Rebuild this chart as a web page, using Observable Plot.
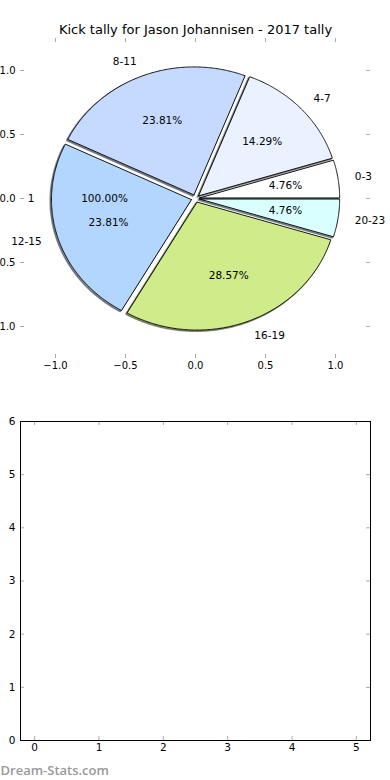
<!DOCTYPE html>
<html><head><meta charset="utf-8">
<script src="https://cdn.jsdelivr.net/npm/d3@7"></script>
<script src="https://cdn.jsdelivr.net/npm/@observablehq/plot@0.6"></script>
<style>
body{margin:0;background:#fff;}
#chart svg{display:block;}
</style></head><body><div id="chart"></div>
<script>
const title = "Kick tally for Jason Johannisen - 2017 tally";
const categories = ["0-3", "4-7", "8-11", "12-15", "16-19", "20-23"];
const counts = [1, 3, 5, 5, 6, 1];
const colors = ["#ffffff", "#eaf2ff", "#c6daff", "#b3d6ff", "#d0eb8a", "#d9ffff"];
const explode = [0.03, 0.03, 0.03, 0.03, 0.03, 0.03];
const overlayLabels = ["1"];
const overlayCounts = [1];
const overlayExplode = [0.03];
const pieTicks = [-1, -0.5, 0, 0.5, 1];
const emptyXTicks = [0, 1, 2, 3, 4, 5];
const emptyYTicks = [0, 1, 2, 3, 4, 5, 6];
const watermark = "Dream-Stats.com";

const FONT = "DejaVu Sans";
const LABEL_DIST = 1.12, PCT_DIST = 0.62;
const minus = s => s.replace("-", "\u2212");

function pieLayout(values, expl) {
  const total = d3.sum(values);
  let t1 = 0;
  return values.map((v, i) => {
    const t2 = t1 + v / total;
    const a1 = 2 * Math.PI * t1, a2 = 2 * Math.PI * t2, am = (a1 + a2) / 2;
    const cx = expl[i] * Math.cos(am), cy = expl[i] * Math.sin(am);
    t1 = t2;
    return {i, v, frac: v / total, a1, a2, am, cx, cy};
  });
}
function wedgePoints(w, ox = 0, oy = 0) {
  const pts = [{x: w.cx + ox, y: w.cy + oy}];
  const n = Math.max(2, Math.ceil((w.a2 - w.a1) / (Math.PI / 360)));
  for (let k = 0; k <= n; k++) {
    const a = w.a1 + (w.a2 - w.a1) * k / n;
    pts.push({x: w.cx + ox + Math.cos(a), y: w.cy + oy + Math.sin(a)});
  }
  pts.push({x: w.cx + ox, y: w.cy + oy});
  return pts;
}

const wedges = pieLayout(counts, explode);
const overlay = pieLayout(overlayCounts, overlayExplode);

const labelData = wedges.map(w => ({
  text: categories[w.i],
  x: w.cx + LABEL_DIST * Math.cos(w.am),
  y: w.cy + LABEL_DIST * Math.sin(w.am)
})).concat(overlay.map(w => ({
  text: overlayLabels[w.i],
  x: w.cx + LABEL_DIST * Math.cos(w.am),
  y: w.cy + LABEL_DIST * Math.sin(w.am)
})));
const pctData = wedges.concat(overlay).map(w => ({
  text: (w.frac * 100).toFixed(2) + "%",
  x: w.cx + PCT_DIST * Math.cos(w.am),
  y: w.cy + PCT_DIST * Math.sin(w.am)
}));

const shadowOff = -0.009;
const shadowMarks = wedges.map(w => {
  const c = d3.rgb(colors[w.i]);
  const dark = d3.rgb(c.r * 0.3, c.g * 0.3, c.b * 0.3).formatHex();
  return Plot.line(wedgePoints(w, shadowOff, shadowOff), {
    x: "x", y: "y", fill: dark, fillOpacity: 0.5, stroke: dark, strokeOpacity: 0.6,
    strokeWidth: 1.6, strokeLinejoin: "miter"
  });
});
const wedgeMarks = wedges.map(w => Plot.line(wedgePoints(w), {
  x: "x", y: "y", fill: colors[w.i], stroke: "black", strokeWidth: 0.9, strokeLinejoin: "miter"
}));

const tickColor = "#aaa";
const fmt1 = d => minus(d.toFixed(1));

const pieFrameW = 350, pieFrameH = 320;
const pie = Plot.plot({
  width: 390, height: 390,
  marginLeft: 20, marginRight: 20, marginTop: 38, marginBottom: 32,
  x: {domain: [-1.25, 1.25]},
  y: {domain: [-1.25, 1.25]},
  style: {fontFamily: FONT, fontSize: "10px", background: "white", color: "black"},
  marks: [
    Plot.tickX(pieTicks, {x: d => d, stroke: tickColor, insetTop: pieFrameH - 4}),
    Plot.tickX(pieTicks, {x: d => d, stroke: tickColor, insetBottom: pieFrameH - 4}),
    Plot.tickY(pieTicks, {y: d => d, stroke: tickColor, insetRight: pieFrameW - 4}),
    Plot.tickY(pieTicks, {y: d => d, stroke: tickColor, insetLeft: pieFrameW - 4}),
    ...shadowMarks,
    ...wedgeMarks,
    Plot.text(labelData.filter(d => d.x > 0), {x: "x", y: "y", text: "text", textAnchor: "start", lineAnchor: "middle", fontSize: 10.5, fill: "black"}),
    Plot.text(labelData.filter(d => d.x <= 0), {x: "x", y: "y", text: "text", textAnchor: "end", lineAnchor: "middle", fontSize: 10.5, fill: "black"}),
    Plot.text(pctData, {x: "x", y: "y", text: "text", textAnchor: "middle", lineAnchor: "middle", fontSize: 10.5, fill: "black"}),
    Plot.axisX(pieTicks, {anchor: "bottom", tickSize: 0, tickPadding: 3, tickFormat: fmt1, label: null, fontSize: 10}),
    Plot.axisY(pieTicks, {anchor: "left", tickSize: 0, tickPadding: 5, tickFormat: fmt1, label: null, fontSize: 10}),
    Plot.text([title], {frameAnchor: "top", dy: -9, text: d => d, lineAnchor: "middle", fontSize: 13, fill: "black"})
  ]
});

const eFrameW = 350, eFrameH = 319;
const empty = Plot.plot({
  width: 390, height: 390,
  marginLeft: 20, marginRight: 20, marginTop: 31, marginBottom: 40,
  x: {domain: [-0.22, 5.22]},
  y: {domain: [0, 6]},
  style: {fontFamily: FONT, fontSize: "10px", background: "white", color: "black"},
  marks: [
    Plot.tickX(emptyXTicks, {x: d => d, stroke: tickColor, insetTop: eFrameH - 4}),
    Plot.tickX(emptyXTicks, {x: d => d, stroke: tickColor, insetBottom: eFrameH - 4}),
    Plot.tickY(emptyYTicks, {y: d => d, stroke: tickColor, insetRight: eFrameW - 4}),
    Plot.tickY(emptyYTicks, {y: d => d, stroke: tickColor, insetLeft: eFrameW - 4}),
    Plot.frame({stroke: "black", strokeWidth: 1}),
    Plot.axisX(emptyXTicks, {anchor: "bottom", tickSize: 0, tickPadding: 3, tickFormat: d => String(d), label: null, fontSize: 10.5}),
    Plot.axisY(emptyYTicks, {anchor: "left", tickSize: 0, tickPadding: 5, tickFormat: d => String(d), label: null, fontSize: 10.5}),
    Plot.text([watermark], {frameAnchor: "bottom-left", dx: -20, dy: 30, text: d => d, textAnchor: "start", lineAnchor: "middle", fill: "#999", fontSize: 13, fontFamily: "Open Sans", fontWeight: 600})
  ]
});

const el = document.getElementById("chart");
el.appendChild(pie);
el.appendChild(empty);
</script>
</body></html>
